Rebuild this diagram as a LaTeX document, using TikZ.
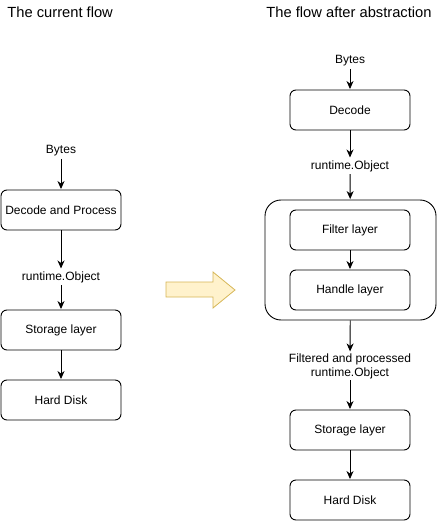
\documentclass[tikz,border=0pt]{standalone}
\usepackage{fontspec}
\setmainfont{Liberation Sans}
\usepackage{tikz}
\usetikzlibrary{arrows.meta}
\usetikzlibrary{positioning}

\begin{document}
\begin{tikzpicture}[x=1pt,y=-1pt,line width=0.9pt,
  every node/.style={font=\fontsize{12}{14}\selectfont,inner sep=2pt},
  box/.style={draw,rounded corners=6pt,minimum width=120pt,minimum height=40pt},
  group/.style={draw,rounded corners=16pt,minimum width=171pt,minimum height=120pt},
  title/.style={anchor=west,font=\fontsize{14.7}{17}\selectfont},
  flow/.style={-{Stealth[length=8pt,width=7pt,inset=2.5pt]},shorten >=0.5pt}]
\useasboundingbox (0,0) rectangle (441,521);

\node[title] (t1) at (5,12) {The current flow};
\node[title] (t2) at (264,12) {The flow after abstraction};

\node (b1) at (61,151) {Bytes};
\node[box] (dp) at (61,210) {Decode and Process};
\node (o1) at (61,277) {runtime.Object};
\node[box] (s1) at (61,330) {Storage layer};
\node[box] (h1) at (61,400) {Hard Disk};

\node (b2) at (350,61) {Bytes};
\node[box] (dec) at (350,110) {Decode};
\node (o2) at (350,166) {runtime.Object};
\node[group] (grp) at (350.5,260) {};
\node[box] (fl) at (350,230) {Filter layer};
\node[box] (hl) at (350,290) {Handle layer};
\node[align=center,inner sep=1pt] (fo) at (350,366) {Filtered and processed\\runtime.Object};
\node[box] (s2) at (350,430) {Storage layer};
\node[box] (h2) at (350,500) {Hard Disk};

\draw[flow](b1)--(dp);
\draw[flow](dp)--(o1);
\draw[flow](o1)--(s1);
\draw[flow](s1)--(h1);

\draw[flow](b2)--(dec);
\draw[flow](dec)--(o2);
\draw[flow](o2)--(grp);
\draw[flow](fl)--(hl);
\draw[flow](grp)--(fo);
\draw[flow](fo)--(s2);
\draw[flow](s2)--(h2);

\draw[fill={rgb,255:red,255;green,242;blue,204},draw={rgb,255:red,214;green,182;blue,86},line width=0.8pt]
  (166,282)--(213,282)--(213,272)--(235,290)--(213,308)--(213,297)--(166,297)--cycle;
\end{tikzpicture}
\end{document}
